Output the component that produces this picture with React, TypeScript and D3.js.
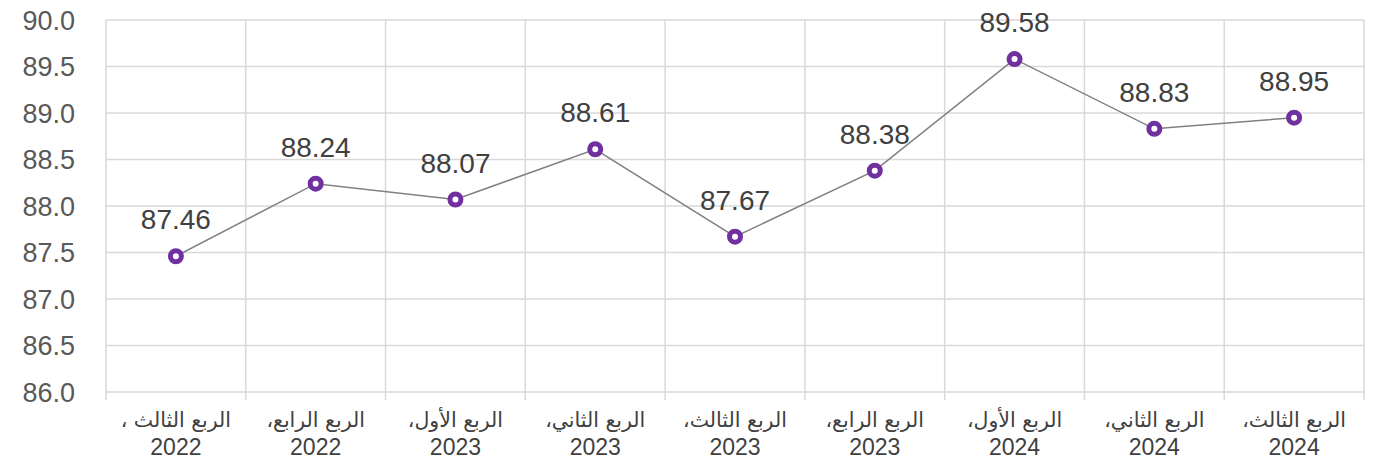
import React from 'react';
import * as d3 from 'd3';

const width = 1379;
const height = 461;

const quarters = ['الربع الثالث ،', 'الربع الرابع،', 'الربع الأول،', 'الربع الثاني،', 'الربع الثالث،', 'الربع الرابع،', 'الربع الأول،', 'الربع الثاني،', 'الربع الثالث،'];
const years = ['2022', '2022', '2023', '2023', '2023', '2023', '2024', '2024', '2024'];
const values = [87.46, 88.24, 88.07, 88.61, 87.67, 88.38, 89.58, 88.83, 88.95];
const yTicks = [86.0, 86.5, 87.0, 87.5, 88.0, 88.5, 89.0, 89.5, 90.0];

const margin = { top: 20, right: 15, bottom: 69, left: 106 };
const font = '"Liberation Sans", Arial, "DejaVu Sans", sans-serif';

export default function App() {
  const keys = quarters.map((_, i) => String(i));
  const x = d3.scaleBand().domain(keys).range([margin.left, width - margin.right]);
  const y = d3.scaleLinear().domain([86, 90]).range([height - margin.bottom, margin.top]);

  const points = values.map((v, i) => [x(keys[i])! + x.bandwidth() / 2, y(v)] as [number, number]);
  const line = d3.line()(points);
  const bottom = y(86);
  const edges = keys.map(k => x(k)!).concat([width - margin.right]);

  return (
    <svg width={width} height={height} style={{ position: 'absolute', left: 0, top: 0 }} fontFamily={font}>
      {yTicks.map(t => (
        <g key={t}>
          <line x1={margin.left} x2={width - margin.right} y1={y(t)} y2={y(t)} stroke="#d9d9d9" strokeWidth={1.5} />
          <text x={75} y={y(t)} dy="0.36em" textAnchor="end" fontSize={27} fill="#595959">{t.toFixed(1)}</text>
        </g>
      ))}
      {edges.map((e, i) => (
        <line key={i} x1={e} x2={e} y1={margin.top} y2={bottom + 8} stroke="#d9d9d9" strokeWidth={1.5} />
      ))}
      {keys.map((k, i) => (
        <g key={k}>
          <text x={x(k)! + x.bandwidth() / 2} y={420} dy="0.35em" textAnchor="middle" fontSize={20.5} fontFamily='"DejaVu Sans", sans-serif' fill="#404040" direction="rtl">{quarters[i]}</text>
          <text x={x(k)! + x.bandwidth() / 2} y={447} dy="0.35em" textAnchor="middle" fontSize={23} fill="#404040">{years[i]}</text>
        </g>
      ))}
      <path d={line!} fill="none" stroke="#808080" strokeWidth={1.5} />
      {points.map((p, i) => (
        <g key={i}>
          <circle cx={p[0]} cy={p[1]} r={5.5} fill="#ffffff" stroke="#7030a0" strokeWidth={5} />
          <text x={p[0]} y={p[1] - 37} dy="0.36em" textAnchor="middle" fontSize={28} fill="#404040">{values[i].toFixed(2)}</text>
        </g>
      ))}
    </svg>
  );
}
